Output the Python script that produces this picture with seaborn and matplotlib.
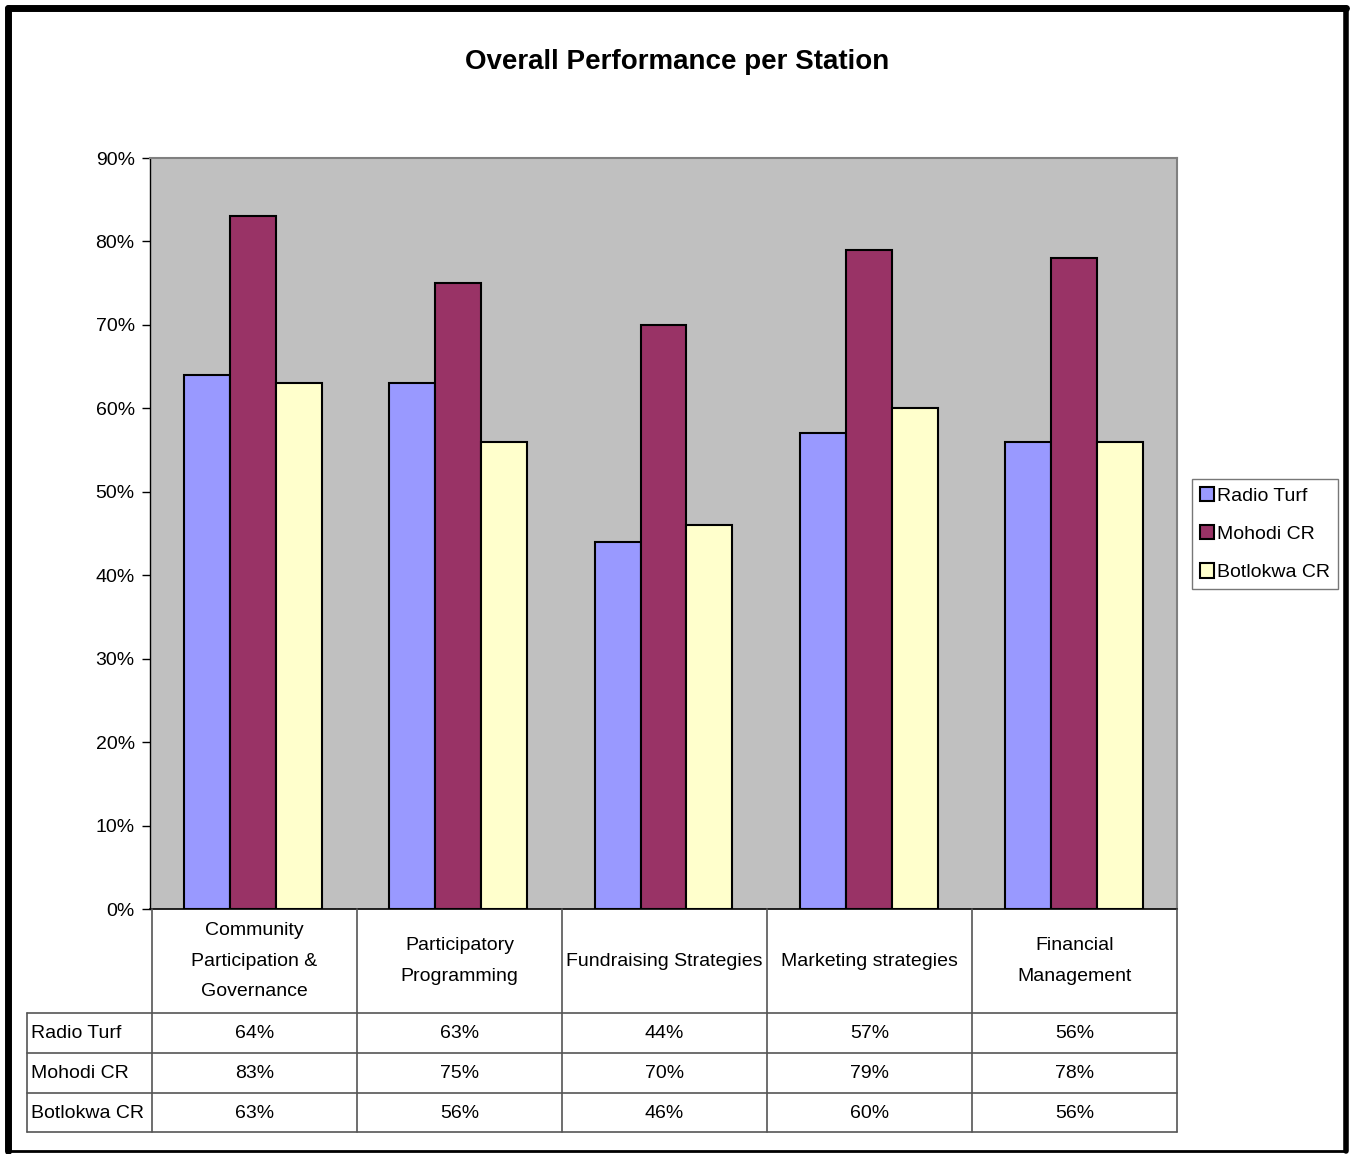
import matplotlib
matplotlib.use("Agg")
import matplotlib.pyplot as plt
from matplotlib.patches import Patch
from matplotlib.lines import Line2D
import seaborn as sns
import pandas as pd

categories = ["Community\nParticipation &\nGovernance", "Participatory\nProgramming",
              "Fundraising Strategies", "Marketing strategies", "Financial\nManagement"]
stations = ["Radio Turf", "Mohodi CR", "Botlokwa CR"]
radio_turf = [64, 63, 44, 57, 56]
mohodi_cr = [83, 75, 70, 79, 78]
botlokwa_cr = [63, 56, 46, 60, 56]
colors = ["#9999FF", "#993366", "#FFFFCC"]
yticks = [0, 10, 20, 30, 40, 50, 60, 70, 80, 90]
title = "Overall Performance per Station"

series = [radio_turf, mohodi_cr, botlokwa_cr]
rows = []
for s, vals in zip(stations, series):
    for c, v in zip(categories, vals):
        rows.append({"category": c, "station": s, "value": v})
df = pd.DataFrame(rows)

sns.set_style("white")
plt.rcParams["font.family"] = ["Liberation Sans Narrow", "Liberation Sans", "DejaVu Sans"]
plt.rcParams["text.color"] = "black"
plt.rcParams["ytick.color"] = "black"
plt.rcParams["xtick.color"] = "black"
plt.rcParams["axes.labelcolor"] = "black"

FS = 14

W, H = 1351, 1154
fig = plt.figure(figsize=(W / 100, H / 100), dpi=100)
fig.patch.set_facecolor("white")

def fx(x):
    return x / W

def fy(y):
    return 1 - y / H

ax_l, ax_r, ax_t, ax_b = 150, 1177, 158, 909
ax = fig.add_axes([fx(ax_l), fy(ax_b), fx(ax_r - ax_l), (ax_b - ax_t) / H])
ax.set_facecolor("#C0C0C0")

sns.barplot(data=df, x="category", y="value", hue="station", order=categories,
            hue_order=stations, palette=colors, width=0.67, edgecolor="black",
            linewidth=1.5, legend=False, ax=ax, errorbar=None, saturation=1)

ax.set_xlim(-0.5, len(categories) - 0.5)
ax.set_ylim(0, 90)
ax.set_yticks(yticks)
ax.set_yticklabels([f"{t}%" for t in yticks], fontsize=FS)
ax.tick_params(axis="y", direction="out", length=6, width=1, color="black", pad=5, left=True)
ax.tick_params(axis="x", bottom=False, labelbottom=False)
ax.set_xlabel("")
ax.set_ylabel("")
for side in ["top", "right"]:
    ax.spines[side].set_color("#808080")
    ax.spines[side].set_linewidth(1.5)
ax.spines["left"].set_color("black")
ax.spines["left"].set_linewidth(1)
ax.spines["bottom"].set_color("black")
ax.spines["bottom"].set_linewidth(1.2)

# Title
fig.text(fx(677), fy(62), title, ha="center", va="center", fontsize=20, fontweight="bold")

# Data table
col_edges = [152, 357, 562, 767, 972, 1177]
row_edges = [909, 1013, 1053, 1093, 1132]
lab_left = 27
lc = "#555555"
def hline(y, x0, x1):
    fig.add_artist(Line2D([fx(x0), fx(x1)], [fy(y), fy(y)], color=lc, lw=1.2, transform=fig.transFigure))
def vline(x, y0, y1):
    fig.add_artist(Line2D([fx(x), fx(x)], [fy(y0), fy(y1)], color=lc, lw=1.2, transform=fig.transFigure))

for y in row_edges[1:]:
    hline(y, lab_left, col_edges[-1])
for x in col_edges:
    vline(x, row_edges[0], row_edges[-1])
vline(lab_left, row_edges[1], row_edges[-1])

for i, c in enumerate(categories):
    cx = (col_edges[i] + col_edges[i + 1]) / 2
    cy = (row_edges[0] + row_edges[1]) / 2
    fig.text(fx(cx), fy(cy), c, ha="center", va="center", fontsize=FS, linespacing=2.05)

for r, (s, vals) in enumerate(zip(stations, series)):
    cy = (row_edges[r + 1] + row_edges[r + 2]) / 2 + 1
    fig.text(fx(lab_left + 4), fy(cy), s, ha="left", va="center", fontsize=FS)
    for i, v in enumerate(vals):
        cx = (col_edges[i] + col_edges[i + 1]) / 2
        fig.text(fx(cx), fy(cy), f"{v}%", ha="center", va="center", fontsize=FS)

# Legend
handles = [Patch(facecolor=c, edgecolor="black", linewidth=1.5, label=s) for s, c in zip(stations, colors)]
leg = fig.legend(handles=handles, loc="center left", bbox_to_anchor=(fx(1192), fy(534)),
                 fontsize=FS, frameon=True, fancybox=False, edgecolor="#555555",
                 handlelength=0.75, handleheight=0.75, handletextpad=0.15,
                 borderpad=0.4, labelspacing=1.05, borderaxespad=0)
leg.get_frame().set_linewidth(1.0)

# Outer border
fig.add_artist(Line2D([fx(8), fx(1346)], [fy(8), fy(8)], color="black", lw=5, transform=fig.transFigure))
fig.add_artist(Line2D([fx(8), fx(8)], [fy(8), fy(1151)], color="black", lw=5, transform=fig.transFigure))
fig.add_artist(Line2D([fx(1346), fx(1346)], [fy(8), fy(1151)], color="black", lw=4, transform=fig.transFigure))
fig.add_artist(Line2D([fx(8), fx(1346)], [fy(1151), fy(1151)], color="black", lw=2, transform=fig.transFigure))

fig.savefig("out.png", dpi=100)
